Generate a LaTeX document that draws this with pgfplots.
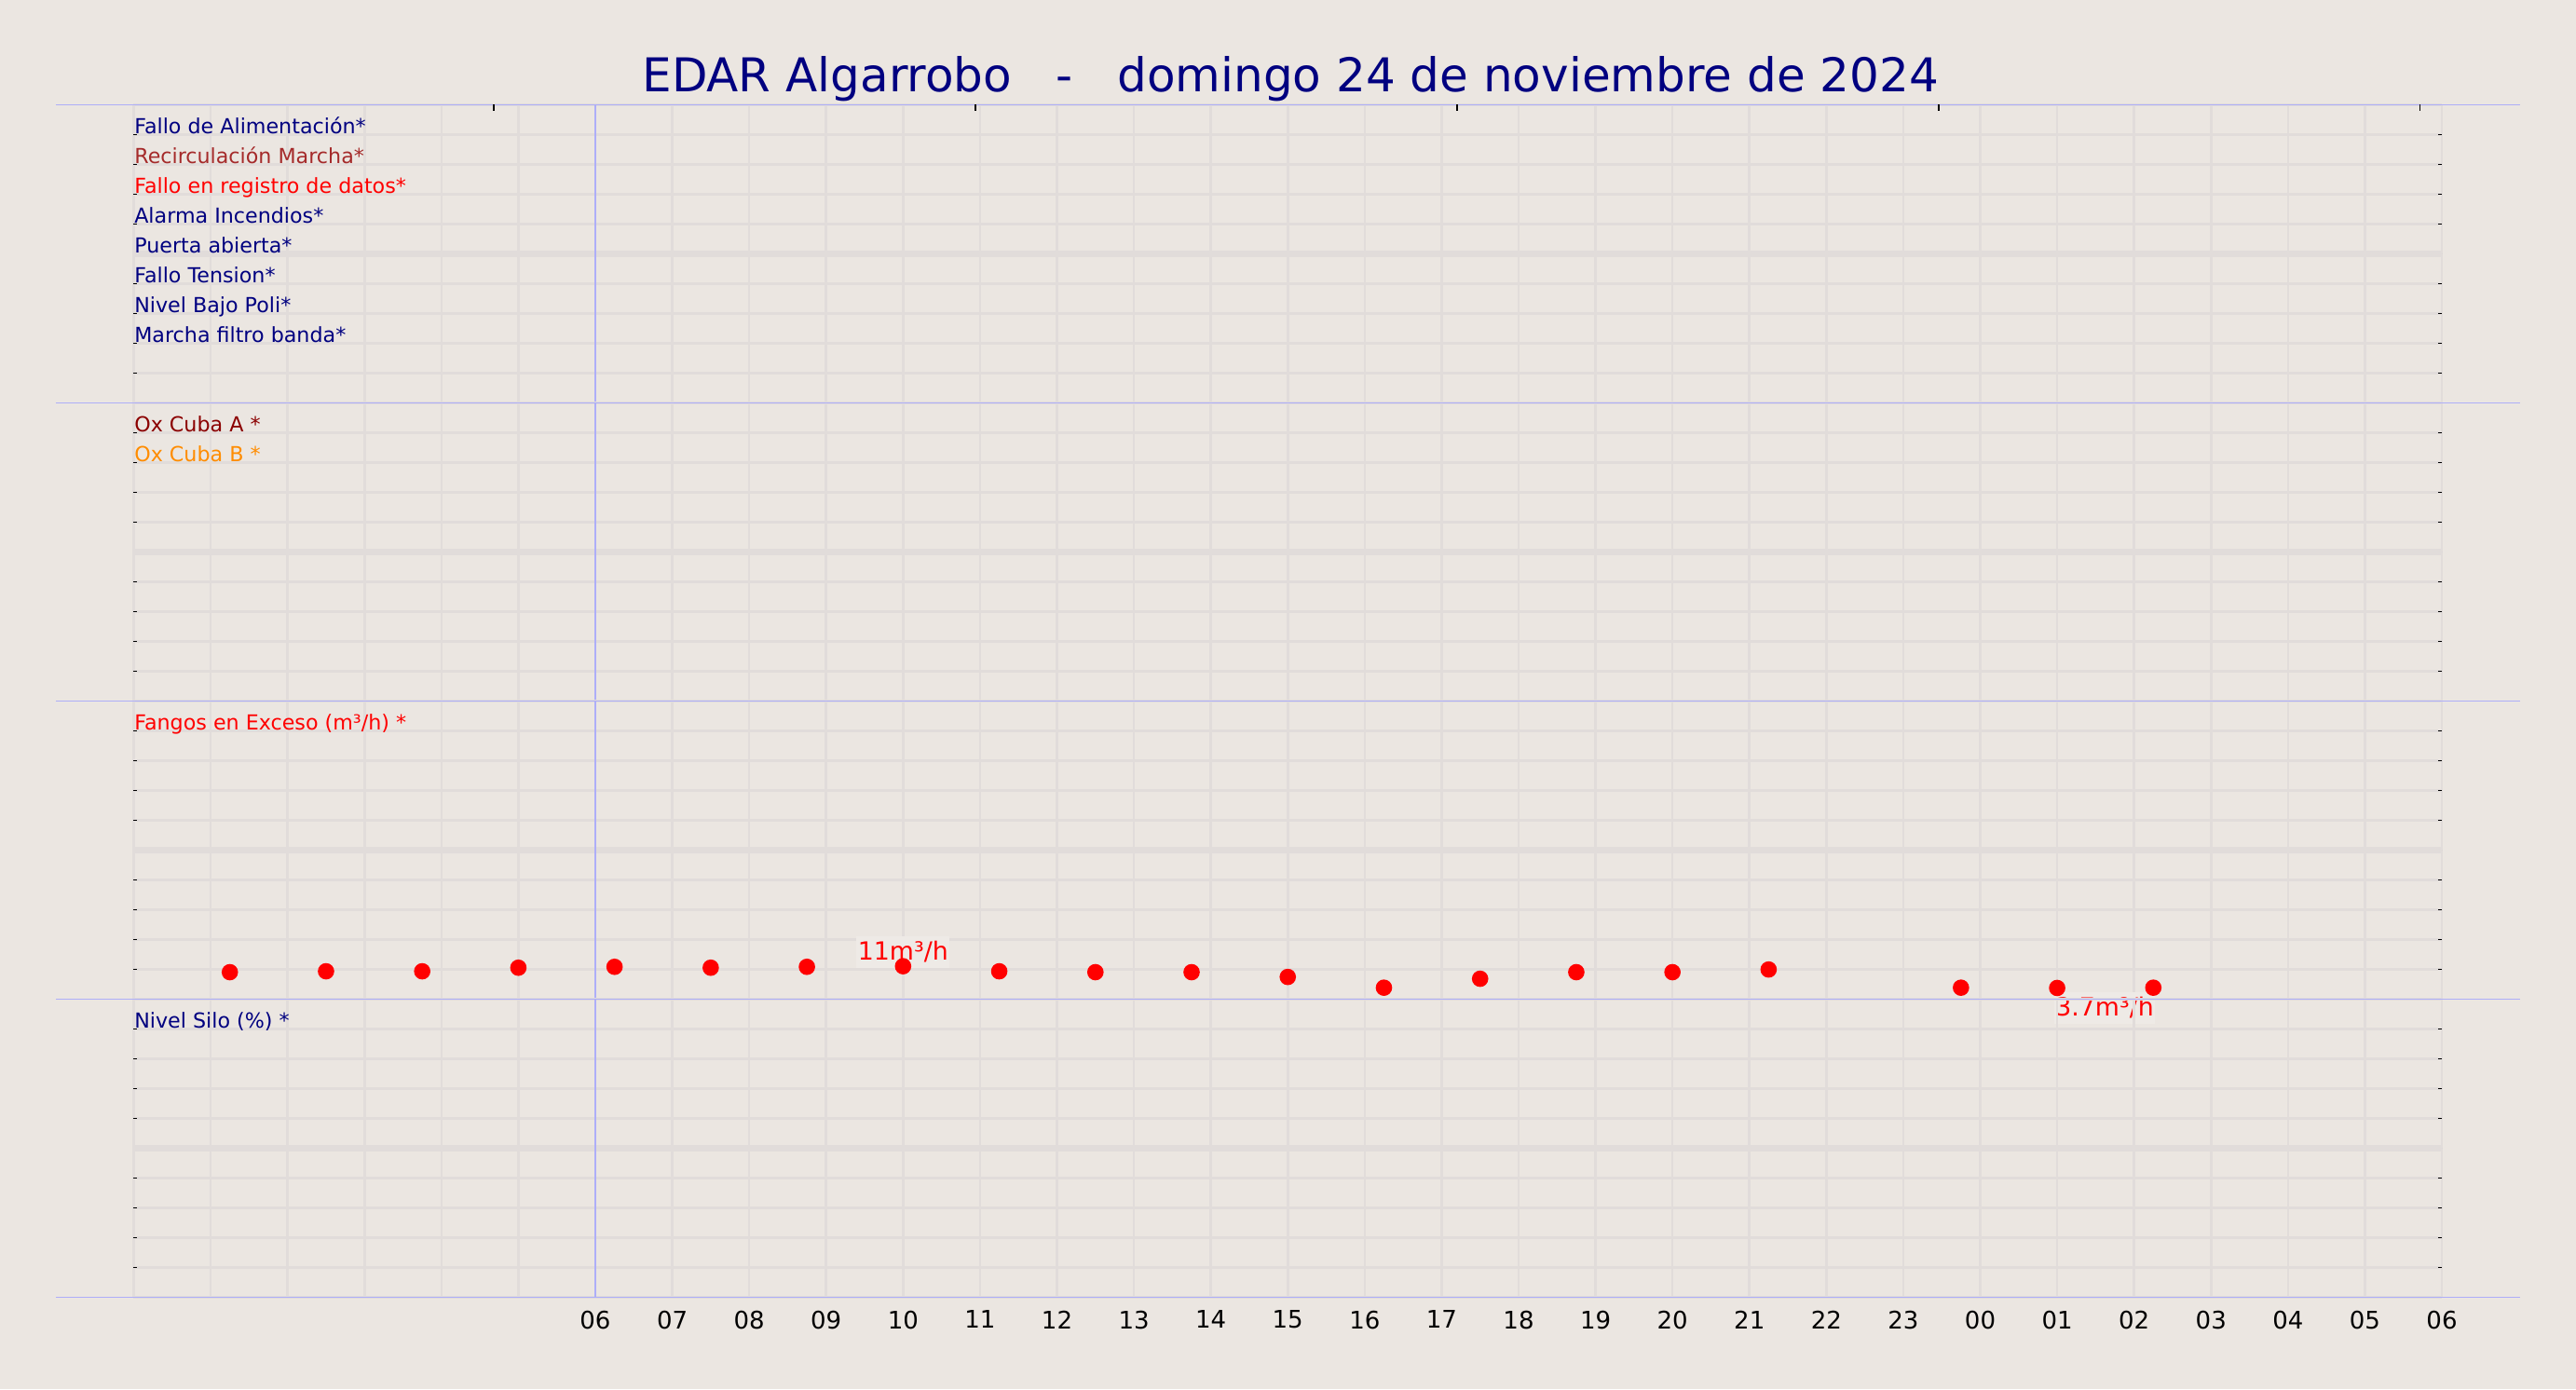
\documentclass[border=0pt]{standalone}
\usepackage{fontspec}
\setmainfont{DejaVu Sans}
\usepackage{pgfplots}
\pgfplotsset{compat=1.18}

\definecolor{bgc}{HTML}{EBE6E1}
\definecolor{gridc}{HTML}{E1DCDA}
\definecolor{sepc}{HTML}{AEAEF8}
\definecolor{lblc}{HTML}{EEEAE6}
\definecolor{navyc}{HTML}{000080}
\definecolor{brownc}{HTML}{A52A2A}
\definecolor{darkredc}{HTML}{8B0000}
\definecolor{orangec}{HTML}{FF8C00}

\newcommand\lblfont{\fontsize{5.55}{6.5}\selectfont}
\newcommand\tickfont{\fontsize{6.5}{8}\selectfont}
\newcommand\valfont{\fontsize{6.7}{8}\selectfont}

\tikzset{sepline/.style={sepc, line width=0.35pt}}

\pgfplotsset{
  panel/.style={
    at={(35.875pt,#1)}, anchor=south west,
    scale only axis, width=619.375pt, height=80pt,
    xmin=0, xmax=30, ymin=0, ymax=100,
    clip=false,
    axis line style={draw=none},
    xtick={0,...,30}, xticklabels={},
    ytick={0,10,...,100}, yticklabels={},
    xtick style={draw=none},
    ytick style={black, line width=0.25pt},
    ytick pos=both, tick align=inside, major tick length=1pt,
    grid=major,
    major grid style={gridc, line width=0.65pt},
  },
}

\begin{document}
\begin{tikzpicture}
\fill[bgc] (0,0) rectangle (691.25pt,372.75pt);
\useasboundingbox (0,0) rectangle (691.25pt,372.75pt);

\node[anchor=base, inner sep=0pt, text=navyc, font=\fontsize{12.5}{15}\selectfont]
  at (346.3pt,348.17pt) {EDAR Algarrobo\ \ \ -\ \ \ domingo 24 de noviembre de 2024};

% panel 1: alarmas
\begin{axis}[panel=264.67pt]
\draw[gridc, line width=1.7pt] (axis cs:0,50) -- (axis cs:30,50);
\draw[sepline] (rel axis cs:-0.0337,1) -- (rel axis cs:1.0337,1);
\draw[sepline] (axis cs:6,0) -- (axis cs:6,100);
\pgfplotsinvokeforeach{4.68,10.94,17.2,23.46,29.72}{
  \draw[black, line width=0.3pt] (axis cs:#1,100) -- ++(0,-1.75pt);
}
\node[anchor=base west, inner sep=0pt, font=\lblfont, text=navyc] at (axis cs:0,90.2) {Fallo de Alimentación*};
\node[anchor=base west, inner sep=0pt, font=\lblfont, text=brownc] at (axis cs:0,80.2) {Recirculación Marcha*};
\node[anchor=base west, inner sep=0pt, font=\lblfont, text=red] at (axis cs:0,70.2) {Fallo en registro de datos*};
\node[anchor=base west, inner sep=0pt, font=\lblfont, text=navyc] at (axis cs:0,60.2) {Alarma Incendios*};
\node[anchor=base west, inner sep=0pt, font=\lblfont, text=navyc] at (axis cs:0,50.2) {Puerta abierta*};
\node[anchor=base west, inner sep=0pt, font=\lblfont, text=navyc] at (axis cs:0,40.2) {Fallo Tension*};
\node[anchor=base west, inner sep=0pt, font=\lblfont, text=navyc] at (axis cs:0,30.2) {Nivel Bajo Poli*};
\node[anchor=base west, inner sep=0pt, font=\lblfont, text=navyc] at (axis cs:0,20.2) {Marcha filtro banda*};
\end{axis}

% panel 2: oxigeno
\begin{axis}[panel=184.67pt]
\draw[gridc, line width=1.7pt] (axis cs:0,50) -- (axis cs:30,50);
\draw[sepline] (rel axis cs:-0.0337,1) -- (rel axis cs:1.0337,1);
\draw[sepline] (axis cs:6,0) -- (axis cs:6,100);
\node[anchor=base west, inner sep=0pt, font=\lblfont, text=darkredc] at (axis cs:0,90.2) {Ox Cuba A *};
\node[anchor=base west, inner sep=0pt, font=\lblfont, text=orangec] at (axis cs:0,80.2) {Ox Cuba B *};
\end{axis}

% panel 3: fangos en exceso
\begin{axis}[panel=104.67pt]
\draw[gridc, line width=1.7pt] (axis cs:0,50) -- (axis cs:30,50);
\draw[sepline] (rel axis cs:-0.0337,1) -- (rel axis cs:1.0337,1);
\draw[sepline] (axis cs:6,0) -- (axis cs:6,100);
\node[anchor=base west, inner sep=0pt, font=\lblfont, text=red] at (axis cs:0,90.2) {Fangos en Exceso (m³/h) *};
\addplot[only marks, mark=*, mark size=2pt, red, mark options={draw=red, fill=red}]
coordinates {
(1.25,9.0) (2.5,9.3) (3.75,9.3) (5,10.5) (6.25,10.8) (7.5,10.5)
(8.75,10.8) (10,11) (11.25,9.3) (12.5,9.0) (13.75,9.0) (15,7.4)
(16.25,3.8) (17.5,6.8) (18.75,9.0) (20,9.0) (21.25,9.9)
(23.75,3.8) (25,3.7) (26.25,3.8)
};
\node[anchor=south, fill=lblc, inner xsep=0.4pt, inner ysep=1.4pt, text=red, font=\valfont] at (axis cs:10,10.3) {11m³/h};
\node[anchor=north west, fill=lblc, inner xsep=0.4pt, inner ysep=1.4pt, text=red, font=\valfont] at (axis cs:24.95,2.6) {3.7m³/h};
\end{axis}

% panel 4: nivel silo
\begin{axis}[panel=24.67pt,
  xticklabels={,,,,,,06,07,08,09,10,11,12,13,14,15,16,17,18,19,20,21,22,23,00,01,02,03,04,05,06},
  xticklabel style={font=\tickfont, text=black, inner sep=0pt, yshift=-3.4pt}]
\draw[gridc, line width=1.7pt] (axis cs:0,50) -- (axis cs:30,50);
\draw[sepline] (rel axis cs:-0.0337,1) -- (rel axis cs:1.0337,1);
\draw[sepline] (rel axis cs:-0.0337,0) -- (rel axis cs:1.0337,0);
\draw[sepline] (axis cs:6,0) -- (axis cs:6,100);
\node[anchor=base west, inner sep=0pt, font=\lblfont, text=navyc] at (axis cs:0,90.2) {Nivel Silo (\%) *};
\end{axis}
\end{tikzpicture}
\end{document}
